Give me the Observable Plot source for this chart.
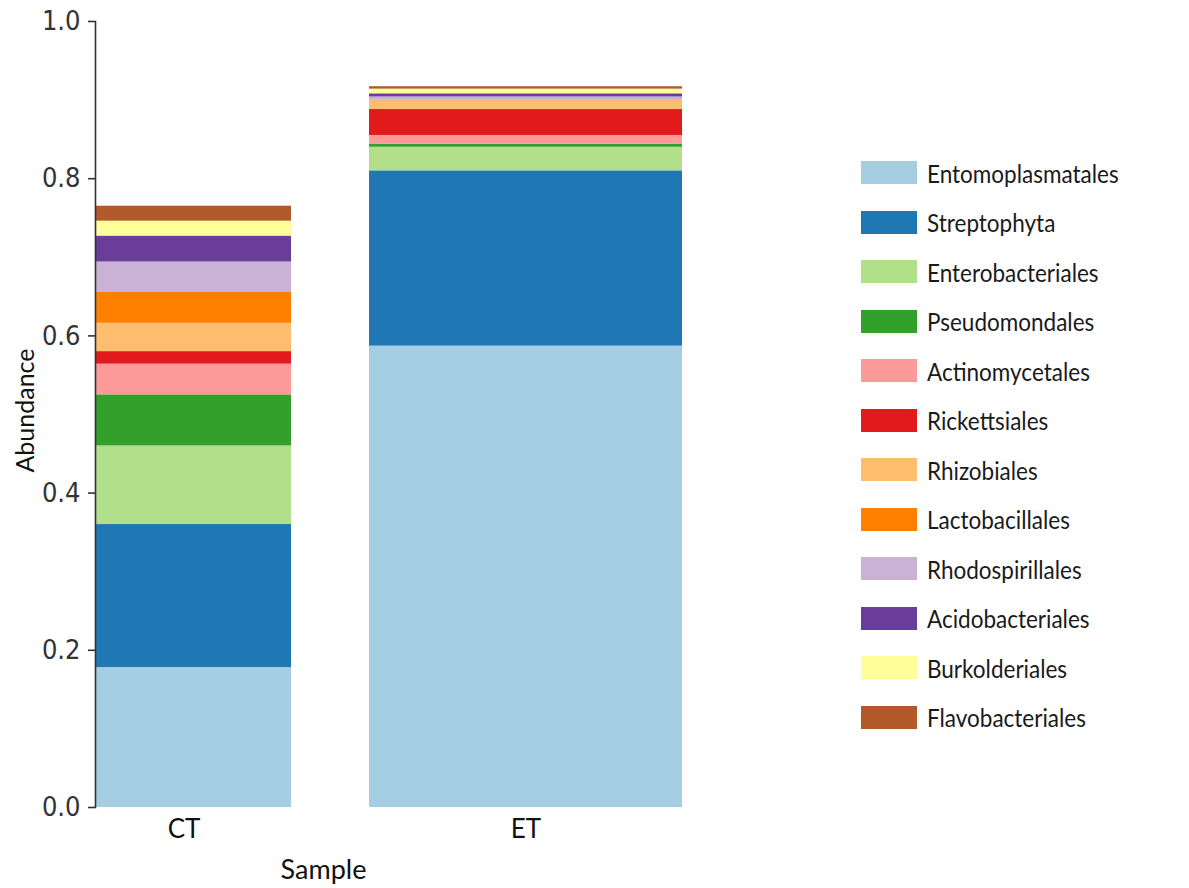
<!DOCTYPE html>
<html>
<head>
<meta charset="utf-8">
<script src="https://cdn.jsdelivr.net/npm/d3@7"></script>
<script src="https://cdn.jsdelivr.net/npm/@observablehq/plot@0.6"></script>
<style>
  html, body { margin: 0; padding: 0; background: #fff; }
  #wrap { position: relative; width: 1189px; height: 888px; }
  #legend { position: absolute; left: 861px; top: 148px; font-family: Lato, "Open Sans", sans-serif; font-size: 25px; color: #1a1a1a; }
  .row { display: flex; align-items: center; height: 49.5px; white-space: nowrap; }
  .sw { width: 56px; height: 23px; margin-right: 10px; flex: none; }
  .row span { display: inline-block; transform: scaleX(0.9); transform-origin: left center; }
</style>
</head>
<body>
<div id="wrap"></div>
<script>
const samples = ["CT", "ET"];
const orders = ["Entomoplasmatales", "Streptophyta", "Enterobacteriales", "Pseudomondales", "Actinomycetales", "Rickettsiales", "Rhizobiales", "Lactobacillales", "Rhodospirillales", "Acidobacteriales", "Burkolderiales", "Flavobacteriales"];
const ctValues = [0.178, 0.182, 0.100, 0.065, 0.039, 0.016, 0.036, 0.040, 0.038, 0.033, 0.019, 0.019];
const etValues = [0.587, 0.223, 0.030, 0.004, 0.011, 0.033, 0.011, 0.001, 0.004, 0.004, 0.006, 0.003];
const yTicks = [0, 0.2, 0.4, 0.6, 0.8, 1.0];
const colors = d3.schemePaired;

const table = [];
samples.forEach((s, i) => {
  const vals = i === 0 ? ctValues : etValues;
  orders.forEach((o, j) => table.push({sample: s, order: o, value: vals[j]}));
});

const tickFont = "'DejaVu Sans Condensed', 'DejaVu Sans', sans-serif";
const labelFont = "Lato, 'Open Sans', sans-serif";

const chart = Plot.plot({
  width: 1189,
  height: 888,
  marginLeft: 95,
  marginRight: 506,
  marginTop: 21,
  marginBottom: 81,
  style: {background: "#fff", color: "#333"},
  x: {domain: samples, range: [26, 683], paddingInner: 0.0845, paddingOuter: 0},
  y: {domain: [0, 1]},
  color: {domain: orders, range: colors},
  marks: [
    Plot.barY(table.filter(d => d.sample === "CT"), {x: "sample", y: "value", fill: "order", insetLeft: 69, insetRight: 49}),
    Plot.barY(table.filter(d => d.sample === "ET"), {x: "sample", y: "value", fill: "order", insetLeft: 0, insetRight: 0}),
    Plot.frame({anchor: "left", stroke: "#333", strokeWidth: 1.6}),
    Plot.axisY({ticks: yTicks, tickFormat: d3.format(".1f"), tickSize: 7, tickPadding: 8, label: null, fontSize: 27, fontFamily: tickFont, stroke: "#333", strokeWidth: 1.6}),
    Plot.axisX({tickSize: 0, tickPadding: 12, label: null, fontSize: 26, fontFamily: labelFont, fill: "#111"}),
    Plot.text(["Abundance"], {frameAnchor: "left", textAnchor: "middle", rotate: -90, dx: -70, dy: -4, fontSize: 25, fontFamily: labelFont, fill: "#111"}),
    Plot.text(["Sample"], {frameAnchor: "bottom", dx: -66, dy: 71, fontSize: 27, fontFamily: labelFont, fill: "#111"})
  ]
});
document.getElementById("wrap").appendChild(chart);

const legend = document.createElement("div");
legend.id = "legend";
orders.forEach((o, j) => {
  const row = document.createElement("div");
  row.className = "row";
  const sw = document.createElement("div");
  sw.className = "sw";
  sw.style.background = colors[j];
  const t = document.createElement("span");
  t.textContent = o;
  row.appendChild(sw);
  row.appendChild(t);
  legend.appendChild(row);
});
document.getElementById("wrap").appendChild(legend);
</script>
</body>
</html>
